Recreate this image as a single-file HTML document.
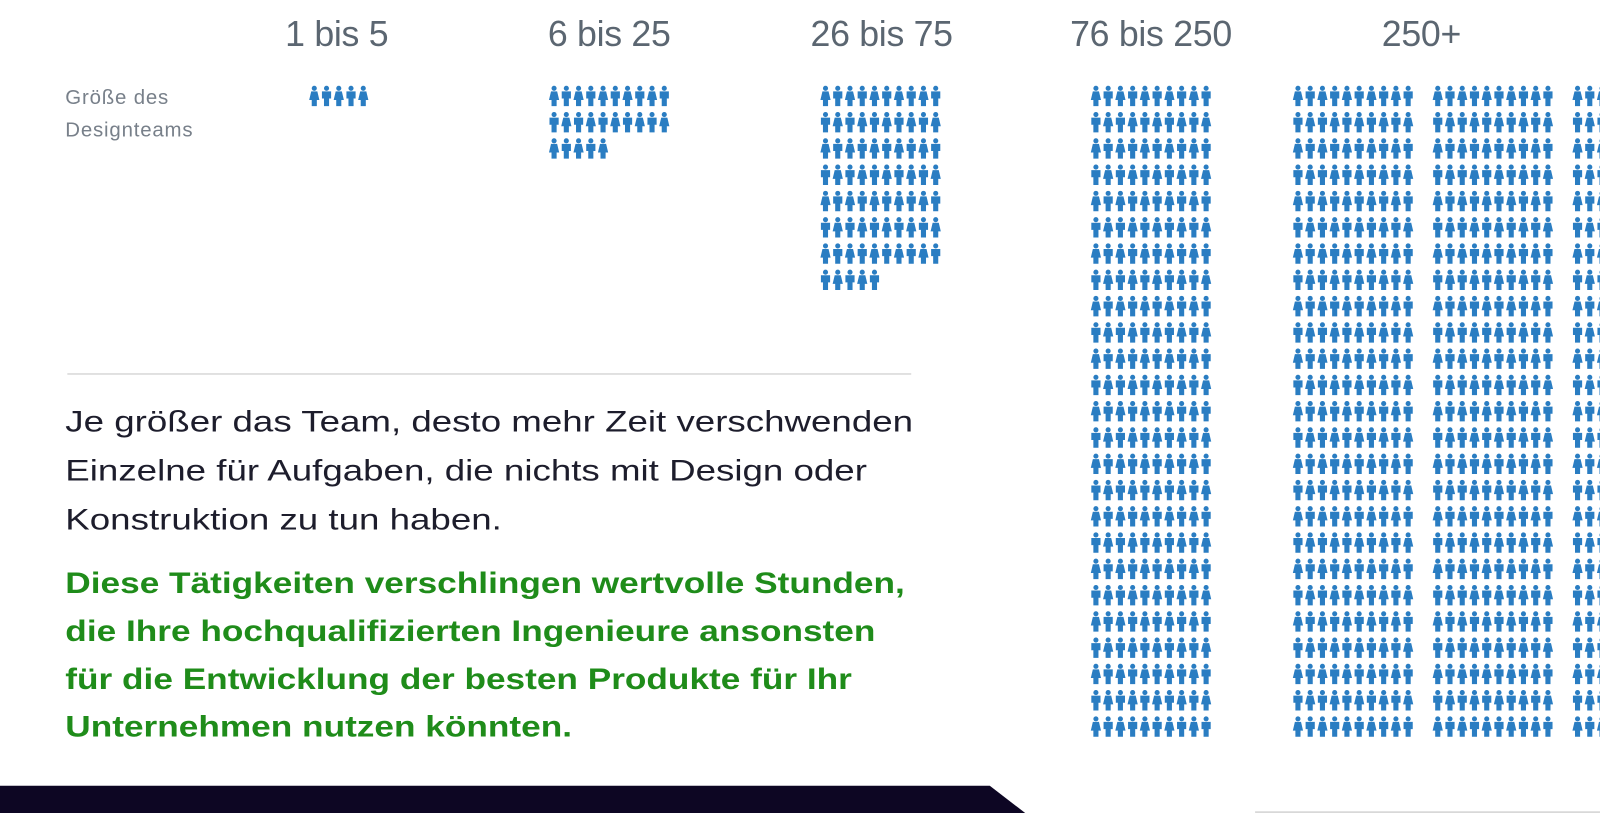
<!DOCTYPE html>
<html><head><meta charset="utf-8">
<style>
html,body{margin:0;padding:0;background:#fff;}
body{width:1600px;height:813px;position:relative;overflow:hidden;font-family:"Liberation Sans",sans-serif;}
#wrap{position:absolute;left:0;top:0;width:1568px;height:797px;transform:scale(1.0204);transform-origin:0 0;}
.h{position:absolute;top:14px;font-family:"Liberation Sans Narrow","Liberation Sans",sans-serif;font-size:35px;color:#5b6671;transform:translateX(-50%);white-space:nowrap;letter-spacing:-0.3px}
.lbl{position:absolute;left:64px;top:80px;font-size:20px;line-height:32px;color:#78808a;letter-spacing:0.8px}
.rule{position:absolute;left:66px;top:366px;width:827px;height:1px;background:#c4c4c4}
.p1{position:absolute;left:64px;top:390px;font-size:29px;line-height:48px;color:#1d1d2c;white-space:nowrap;transform:scaleX(1.24);transform-origin:0 0}
.p2{position:absolute;left:64px;top:549px;font-size:29px;line-height:47px;color:#1f8c1a;font-weight:bold;white-space:nowrap;transform:scaleX(1.19);transform-origin:0 0}
svg{position:absolute;left:0;top:0}
</style></head><body>
<div id="wrap">
<div class="h" style="left:330px">1 bis 5</div>
<div class="h" style="left:597px">6 bis 25</div>
<div class="h" style="left:864px">26 bis 75</div>
<div class="h" style="left:1128px">76 bis 250</div>
<div class="h" style="left:1393px">250+</div>
<div class="lbl">Größe des<br>Designteams</div>
<div class="rule"></div>
<div class="p1">Je größer das Team, desto mehr Zeit verschwenden<br>Einzelne für Aufgaben, die nichts mit Design oder<br>Konstruktion zu tun haben.</div>
<div class="p2">Diese Tätigkeiten verschlingen wertvolle Stunden,<br>die Ihre hochqualifizierten Ingenieure ansonsten<br>für die Entwicklung der besten Produkte für Ihr<br>Unternehmen nutzen könnten.</div>
<svg id="chart" width="1568" height="797">
<polygon points="0,770 970,770 1005,797 0,797" fill="#0d0623"/>
<line x1="1230" y1="796" x2="1568" y2="796" stroke="#d8d8d8" stroke-width="2"/>
</svg>
</div>
<script>
const categories=["1 bis 5","6 bis 25","26 bis 75","76 bis 250","250+"];
const counts=[5,25,75,250,750];
const colStart=[303,538,804,1069,1267];
const perRow=10,pitchX=12,pitchY=25.75,groupGap=17,topY=94;
const svg=document.getElementById('chart');
const NS='http://www.w3.org/2000/svg';
function person(cx,cy,fem){
  const g=document.createElementNS(NS,'g');
  g.setAttribute('fill','#2a7dc2');
  const h=document.createElementNS(NS,'circle');
  h.setAttribute('cx',cx);h.setAttribute('cy',cy-7.5);h.setAttribute('r',2.5);
  g.appendChild(h);
  const b=document.createElementNS(NS,'path');
  let d;
  if(fem){d=`M${cx-3},${cy-4.5} L${cx+3},${cy-4.5} L${cx+5},${cy+4} L${cx+2.5},${cy+4} L${cx+2.5},${cy+10} L${cx-2.5},${cy+10} L${cx-2.5},${cy+4} L${cx-5},${cy+4} Z`;}
  else{d=`M${cx-4.5},${cy-4.5} L${cx+4.5},${cy-4.5} L${cx+4.5},${cy+2.5} L${cx+2.5},${cy+2.5} L${cx+2.5},${cy+10} L${cx-2.5},${cy+10} L${cx-2.5},${cy+2.5} L${cx-4.5},${cy+2.5} Z`;}
  b.setAttribute('d',d);
  g.appendChild(b);
  return g;
}
counts.forEach((n,ci)=>{
  const grp=document.createElementNS(NS,'g');
  
  
  const groups=ci===4?3:1;
  const rowLen=perRow*groups;
  for(let i=0;i<n;i++){
    const r=Math.floor(i/rowLen),c=i%rowLen;
    const gi=Math.floor(c/perRow),k=c%perRow;
    const x=colStart[ci]+5+k*pitchX+gi*(perRow*pitchX+groupGap);
    const y=topY+r*pitchY;
    const p=person(x,y,(k+r)%2===0);
    
    
    grp.appendChild(p);
  }
  svg.appendChild(grp);
});
</script>
</body></html>
